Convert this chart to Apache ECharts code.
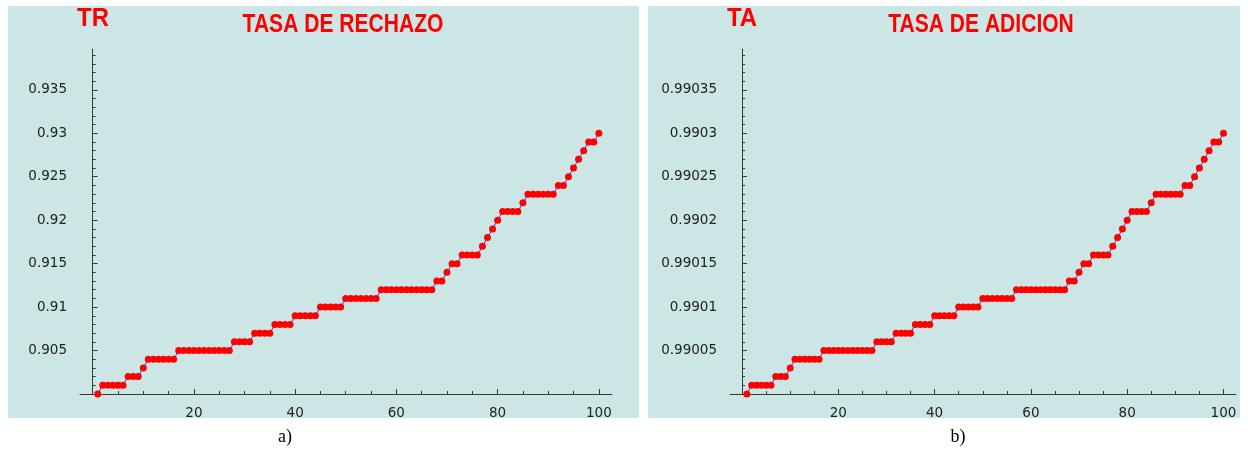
<!DOCTYPE html>
<html>
<head>
<meta charset="utf-8">
<script src="https://cdn.jsdelivr.net/npm/echarts@6/dist/echarts.min.js"></script>
<style>
html,body{margin:0;padding:0;background:#fff;}
#chart{width:1248px;height:449px;}
</style>
</head>
<body>
<div id="chart"></div>
<script>
// tasa de rechazo (TR) por iteracion
let tr = [
	0.900,0.901,0.901,0.901,0.901,0.901,0.902,0.902,0.902,0.903,
	0.904,0.904,0.904,0.904,0.904,0.904,0.905,0.905,0.905,0.905,
	0.905,0.905,0.905,0.905,0.905,0.905,0.905,0.906,0.906,0.906,
	0.906,0.907,0.907,0.907,0.907,0.908,0.908,0.908,0.908,0.909,
	0.909,0.909,0.909,0.909,0.910,0.910,0.910,0.910,0.910,0.911,
	0.911,0.911,0.911,0.911,0.911,0.911,0.912,0.912,0.912,0.912,
	0.912,0.912,0.912,0.912,0.912,0.912,0.912,0.913,0.913,0.914,
	0.915,0.915,0.916,0.916,0.916,0.916,0.917,0.918,0.919,0.920,
	0.921,0.921,0.921,0.921,0.922,0.923,0.923,0.923,0.923,0.923,
	0.923,0.924,0.924,0.925,0.926,0.927,0.928,0.929,0.929,0.930
];
// tasa de adicion (TA) por iteracion
let ta = [
	0.99000,0.99001,0.99001,0.99001,0.99001,0.99001,0.99002,0.99002,0.99002,0.99003,
	0.99004,0.99004,0.99004,0.99004,0.99004,0.99004,0.99005,0.99005,0.99005,0.99005,
	0.99005,0.99005,0.99005,0.99005,0.99005,0.99005,0.99005,0.99006,0.99006,0.99006,
	0.99006,0.99007,0.99007,0.99007,0.99007,0.99008,0.99008,0.99008,0.99008,0.99009,
	0.99009,0.99009,0.99009,0.99009,0.99010,0.99010,0.99010,0.99010,0.99010,0.99011,
	0.99011,0.99011,0.99011,0.99011,0.99011,0.99011,0.99012,0.99012,0.99012,0.99012,
	0.99012,0.99012,0.99012,0.99012,0.99012,0.99012,0.99012,0.99013,0.99013,0.99014,
	0.99015,0.99015,0.99016,0.99016,0.99016,0.99016,0.99017,0.99018,0.99019,0.99020,
	0.99021,0.99021,0.99021,0.99021,0.99022,0.99023,0.99023,0.99023,0.99023,0.99023,
	0.99023,0.99024,0.99024,0.99025,0.99026,0.99027,0.99028,0.99029,0.99029,0.99030
];

let xTicks = [20, 40, 60, 80, 100];
let xMinor = [5, 10, 15, 25, 30, 35, 45, 50, 55, 65, 70, 75, 85, 90, 95];
let trTicks = [0.905, 0.91, 0.915, 0.92, 0.925, 0.93, 0.935];
let taTicks = [0.99005, 0.9901, 0.99015, 0.9902, 0.99025, 0.9903, 0.99035];

function minorOf(base, step, n, majors){
	let out = [];
	for(let k=1;k<=n;k++){
		let v = Math.round((base + k*step) * 1e7) / 1e7;
		if(majors.indexOf(v) < 0) out.push(v);
	}
	return out;
}
let trMinor = minorOf(0.9, 0.001, 39, trTicks);
let taMinor = minorOf(0.99, 0.00001, 39, taTicks);

function toPairs(arr){
	let out = [];
	for(let i=0;i<arr.length;i++) out.push([i+1, arr[i]]);
	return out;
}

let axisCol = '#3a3a3a';
let labelStyle = { color: '#222', fontFamily: 'DejaVu Sans', fontSize: 13.5 };

function xAxes(gi){
	return [{
		type: 'value', gridIndex: gi, position: 'bottom',
		min: -2.5, max: 102.6,
		axisLine: { show: true, onZero: false, lineStyle: { color: axisCol, width: 1 } },
		axisTick: { show: true, inside: true, length: 5, customValues: xTicks, lineStyle: { color: axisCol } },
		axisLabel: Object.assign({ show: true, margin: 12, customValues: xTicks }, labelStyle),
		splitLine: { show: false }
	}, {
		type: 'value', gridIndex: gi, position: 'bottom',
		min: -2.5, max: 102.6,
		axisLine: { show: false, onZero: false },
		axisTick: { show: true, inside: true, length: 3, customValues: xMinor, lineStyle: { color: axisCol } },
		axisLabel: { show: false },
		splitLine: { show: false }
	}];
}

function yAxes(gi, xi, lo, hi, major, minor){
	return [{
		type: 'value', gridIndex: gi, position: 'left',
		min: lo, max: hi,
		axisLine: { show: true, onZero: true, onZeroAxisIndex: xi, lineStyle: { color: axisCol, width: 1 } },
		axisTick: { show: true, inside: true, length: 5, customValues: major, lineStyle: { color: axisCol } },
		axisLabel: Object.assign({ show: true, margin: 13, customValues: major }, labelStyle),
		splitLine: { show: false }
	}, {
		type: 'value', gridIndex: gi, position: 'left',
		min: lo, max: hi,
		axisLine: { show: false, onZero: true, onZeroAxisIndex: xi },
		axisTick: { show: true, inside: true, length: 3, customValues: minor, lineStyle: { color: axisCol } },
		axisLabel: { show: false },
		splitLine: { show: false }
	}];
}

function lineSeries(xi, yi, arr){
	return {
		type: 'line', xAxisIndex: xi, yAxisIndex: yi,
		data: toPairs(arr),
		symbol: 'circle', symbolSize: 7,
		showSymbol: true, showAllSymbol: true,
		clip: true,
		itemStyle: { color: '#ff0000', borderWidth: 0 },
		lineStyle: { color: '#2040ff', width: 1 },
		emphasis: { disabled: true },
		z: 3
	};
}

// titulos: negrita estrecha, se comprime en horizontal
function titleText(txt, x, y, sx){
	return {
		type: 'text', x: x, y: y, scaleX: sx, silent: true,
		style: { text: txt, fill: '#ff0000', font: 'bold 26px "Liberation Sans", Arial, sans-serif', align: 'center', verticalAlign: 'middle' }
	};
}

let chart = echarts.init(document.getElementById('chart'), null, { renderer: 'canvas' });
chart.setOption({
	animation: false,
	backgroundColor: '#ffffff',
	graphic: [
		{ type: 'rect', left: 8, top: 6, z: -10, shape: { width: 631, height: 412 }, style: { fill: '#cce5e5' }, silent: true },
		{ type: 'rect', left: 648, top: 6, z: -10, shape: { width: 592, height: 412 }, style: { fill: '#cce5e5' }, silent: true },
		titleText('TR', 93, 19, 0.92),
		titleText('TASA DE RECHAZO', 343, 25, 0.81),
		titleText('TA', 742, 19, 0.92),
		titleText('TASA DE ADICION', 981, 25, 0.81),
		{ type: 'text', x: 285, y: 437, style: { text: 'a)', fill: '#000', font: '18px "Liberation Serif"', align: 'center', verticalAlign: 'middle' }, silent: true },
		{ type: 'text', x: 958, y: 437, style: { text: 'b)', fill: '#000', font: '18px "Liberation Serif"', align: 'center', verticalAlign: 'middle' }, silent: true }
	],
	grid: [
		{ left: 80, top: 49, width: 532, height: 345, containLabel: false },
		{ left: 730, top: 49, width: 506, height: 345, containLabel: false }
	],
	xAxis: xAxes(0).concat(xAxes(1)),
	yAxis: yAxes(0, 0, 0.9, 0.9397, trTicks, trMinor).concat(yAxes(1, 2, 0.99, 0.990397, taTicks, taMinor)),
	series: [
		lineSeries(0, 0, tr),
		lineSeries(2, 2, ta)
	]
});
</script>
</body>
</html>
